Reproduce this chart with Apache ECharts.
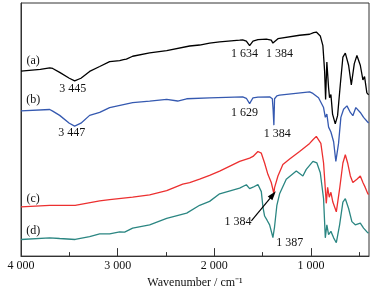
<!DOCTYPE html>
<html>
<head>
<meta charset="utf-8">
<script src="https://cdn.jsdelivr.net/npm/echarts@6/dist/echarts.min.js"></script>
<style>
  html, body { margin: 0; padding: 0; background: #fff; }
  #chart { width: 374px; height: 294px; }
</style>
</head>
<body>
<div id="chart"></div>
<script>
// FTIR spectra, [wavenumber, relative transmittance]
var specA = [[4000,189.3],[3800,191],[3703,192.7],[3672,192],[3600,188],[3500,182],[3445,179.3],[3380,182],[3290,189],[3186,194],[3083,199],[2979,200],[2940,201],[2928,199.5],[2910,201.5],[2845,204.5],[2669,208],[2493,210.3],[2255,215],[2152,216],[2049,218],[1945,219.3],[1738,221],[1707,221.3],[1669,220],[1635,215.3],[1600,220],[1549,221.5],[1462,222],[1411,221],[1394,218],[1384,216],[1377,219],[1342,222.5],[1325,222.7],[1118,226],[1014,227],[973,228.7],[945,229.3],[904,225.3],[877,215.3],[859,189],[849,160.3],[836,198.7],[818,172],[808,162],[794,165.3],[777,145.3],[749,135.3],[725,143.7],[697,175.3],[670,203.7],[645,207.7],[611,195.3],[583,175.3],[552,197],[525,205.3],[490,195.3],[463,180.3],[446,183.7],[422,167],[404,165]];
var specB = [[4000,148.7],[3703,150],[3672,148.3],[3600,144],[3500,136],[3445,133],[3380,136],[3290,144],[3186,147],[3083,152],[2845,157],[2669,158.5],[2493,160.3],[2379,158.7],[2286,161],[2049,162],[1707,163],[1669,161.5],[1635,156],[1600,162],[1549,162.7],[1428,163],[1400,161],[1392,150],[1384,134],[1377,161],[1353,164],[1325,164.7],[1014,168],[980,166.5],[922,162],[870,152],[852,142],[836,145.3],[818,132],[794,127],[766,117],[743,97],[715,115.3],[691,142],[663,150.3],[628,153.7],[593,147],[567,143.7],[536,152],[490,147],[456,142],[412,137],[404,136]];
var specC = [[4000,50.3],[3703,52],[3440,52],[3186,56.5],[3083,57.7],[2845,60.3],[2669,62.7],[2493,67],[2327,73.7],[2255,75.3],[2152,78.7],[2049,82.7],[1945,87],[1738,97],[1635,100.3],[1600,102],[1549,107],[1514,105.3],[1480,95.3],[1446,83.7],[1411,75.3],[1384,64],[1377,70],[1342,82],[1291,93.7],[1221,99.3],[1118,107],[1014,115.3],[980,119],[945,122.5],[898,115.3],[870,95.3],[852,69],[842,54],[828,70.3],[811,60.3],[794,65.3],[774,55.3],[738,45.3],[704,68.7],[670,95.3],[645,103.7],[621,95.3],[593,82],[567,75.3],[525,78.7],[490,82],[463,75.3],[439,70.3],[412,63.7],[404,63]];
var specD = [[4000,17],[3703,18.7],[3600,18],[3440,17],[3290,20],[3186,22.7],[3083,22.7],[2979,24.7],[2928,24.5],[2845,28.7],[2669,32],[2493,38.7],[2286,44],[2152,52],[2049,56],[1945,63.7],[1738,69.5],[1669,73],[1635,69],[1600,70.5],[1583,72],[1549,73.2],[1514,66],[1497,50],[1480,41],[1456,37],[1428,32],[1394,19],[1384,18.5],[1377,30],[1353,52],[1325,63.7],[1256,78.7],[1152,87],[1084,82],[1049,88.7],[980,97],[939,95.3],[904,85.3],[870,58.7],[852,18.7],[836,32],[818,22],[794,25.3],[766,18.7],[738,13.7],[704,32],[670,55.3],[645,58.7],[611,48.7],[577,35.3],[542,32],[490,33.7],[456,28.7],[412,23.7],[404,24]];

var majorTicks = [4000, 3000, 2000, 1000];
var minorTicks = [3500, 2500, 1500, 500];

// curve tags and peak labels: [wavenumber, value, text]
var tagsA = [[3874, 200.3, '(a)'], [3465, 171.3, '3 445'], [1687, 207, '1 634'], [1325, 207, '1 384']];
var tagsB = [[3874, 160, '(b)'], [3476, 126, '3 447'], [1687, 147, '1 629'], [1349, 124.7, '1 384']];
var tagsC = [[3874, 59, '(c)'], [1756, 34.7, '1 384']];
var tagsD = [[3874, 26.3, '(d)'], [1221, 13.7, '1 387']];
var arrowFrom = [1617, 36];
var arrowTo = [1394, 62.7];

var serif = 'Liberation Serif';

function fmtNum(v) {
  var s = String(v);
  return s.length > 3 ? s.slice(0, s.length - 3) + ' ' + s.slice(-3) : s;
}

function tags(list) {
  return {
    silent: true,
    symbol: 'circle',
    symbolSize: 0,
    label: {
      show: true,
      position: 'inside',
      color: '#111',
      fontFamily: serif,
      fontSize: 12,
      formatter: function (p) { return p.name; }
    },
    data: list.map(function (t) { return { name: t[2], coord: [t[0], t[1]] }; })
  };
}

function line(name, data, color, list) {
  return {
    name: name,
    type: 'line',
    data: data,
    showSymbol: false,
    lineStyle: { color: color, width: 1.3 },
    itemStyle: { color: color },
    markPoint: tags(list),
    z: 2
  };
}

var chart = echarts.init(document.getElementById('chart'));
var series = [
  line('a', specA, '#000000', tagsA),
  line('b', specB, '#3559b0', tagsB),
  line('c', specC, '#ec3030', tagsC),
  line('d', specD, '#2b8682', tagsD)
];
series[2].markLine = {
  silent: true,
  symbol: ['none', 'triangle'],
  symbolSize: [6, 9],
  lineStyle: { color: '#000', width: 1.2, type: 'solid' },
  label: { show: false },
  data: [[{ coord: arrowFrom }, { coord: arrowTo }]]
};

chart.setOption({
  animation: false,
  backgroundColor: '#fff',
  grid: {
    left: 21, right: 5, top: 3, bottom: 32,
    show: true, borderColor: '#333', borderWidth: 1
  },
  xAxis: [{
    type: 'value',
    min: 400, max: 4000,
    inverse: true,
    splitLine: { show: false },
    axisLine: { show: true, lineStyle: { color: '#333', width: 1 } },
    axisTick: { show: true, inside: true, length: 8, customValues: majorTicks, lineStyle: { color: '#333' } },
    axisLabel: {
      customValues: majorTicks, margin: 4, color: '#111',
      fontFamily: serif, fontSize: 12, formatter: fmtNum
    },
    name: 'Wavenumber / cm\u207B\u00B9',
    nameLocation: 'middle',
    nameGap: 19,
    nameTextStyle: { color: '#111', fontFamily: serif, fontSize: 12 }
  }, {
    type: 'value',
    min: 400, max: 4000,
    inverse: true,
    position: 'bottom',
    splitLine: { show: false },
    axisLine: { show: false },
    axisTick: { show: true, inside: true, length: 4, customValues: minorTicks, lineStyle: { color: '#333' } },
    axisLabel: { show: false }
  }],
  yAxis: {
    type: 'value',
    min: 0, max: 259,
    splitLine: { show: false },
    axisLine: { show: true, lineStyle: { color: '#333', width: 1 } },
    axisTick: { show: false },
    axisLabel: { show: false }
  },
  series: series
});
</script>
</body>
</html>
